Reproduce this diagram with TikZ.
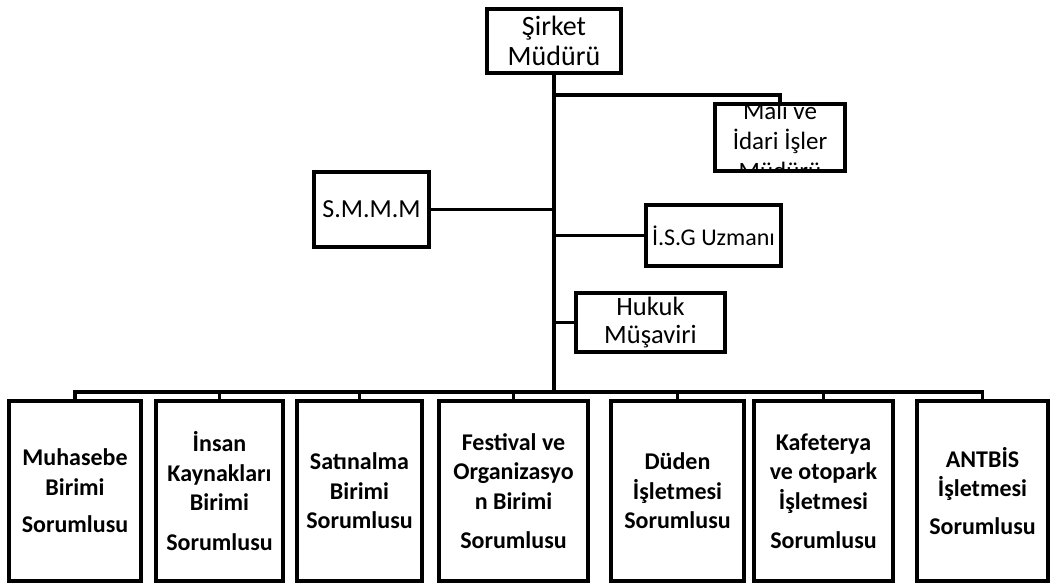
\documentclass[tikz,border=0pt]{standalone}
\usepackage{fontspec}
\setmainfont{Carlito}
\begin{document}
\begin{tikzpicture}[x=1pt,y=-1pt,
  box/.style={draw, line width=3.5pt, rectangle, inner sep=0pt, align=center,
    font=\fontsize{24}{29}\selectfont},
  ubox/.style={box, minimum height=180pt, font=\bfseries\fontsize{24}{29.5}\selectfont},
  conn/.style={line width=3.5pt},
  trunk/.style={line width=4.5pt}]
\useasboundingbox (0,0) rectangle (1057,585);
% upper boxes
\node[box, minimum width=134pt, minimum height=64pt, font=\fontsize{28}{30}\selectfont] (sirket) at (554,41) {Şirket\\Müdürü};
\node[box, minimum width=130pt, minimum height=67pt] (mali) at (780,137.5) {};
\begin{scope}
  \clip ([xshift=1.75pt,yshift=-1.75pt]mali.north west) rectangle ([xshift=-1.75pt,yshift=1.75pt]mali.south east);
  \node[align=center, font=\fontsize{25}{30}\selectfont, inner sep=0pt] (malitext) at (780,141) {Mali ve\\İdari İşler\\Müdürü};
\end{scope}
\node[box, minimum width=115pt, minimum height=75pt, font=\fontsize{26}{30}\selectfont] (smmm) at (371.5,209.5) {S.M.M.M};
\node[box, minimum width=135pt, minimum height=61pt] (isg) at (713.5,235.5) {İ.S.G Uzmanı};
\node[box, minimum width=149pt, minimum height=59pt, font=\fontsize{26.5}{28}\selectfont] (hukuk) at (650.5,322.5) {Hukuk\\Müşaviri};
% lower boxes
\node[ubox, minimum width=132pt] (muh) at (75,491) {Muhasebe\\Birimi\\[8pt]Sorumlusu};
\node[ubox, minimum width=127pt] (ins) at (219.5,491) {İnsan\\Kaynakları\\Birimi\\[10pt]Sorumlusu};
\node[ubox, minimum width=125pt] (sat) at (359.5,491) {Satınalma\\Birimi\\Sorumlusu};
\node[ubox, minimum width=149pt] (fes) at (513.5,491) {Festival ve\\Organizasyo\\n Birimi\\[10pt]Sorumlusu};
\node[ubox, minimum width=133pt] (dud) at (677.5,491) {Düden\\İşletmesi\\Sorumlusu};
\node[ubox, minimum width=139pt] (kaf) at (823.5,491) {Kafeterya\\ve otopark\\İşletmesi\\[10pt]Sorumlusu};
\node[ubox, minimum width=131pt] (ant) at (982.5,491) {ANTBİS\\İşletmesi\\[8pt]Sorumlusu};
% connectors
\coordinate (bar) at (554,392);
\coordinate (jm) at (554,95);
\draw[trunk] (sirket.south) -- (sirket.south |- bar);
\draw[conn] (jm) -| (mali.north);
\draw[conn] (smmm.east) -- (smmm.east -| sirket.south);
\draw[conn] (isg.west) -- (isg.west -| sirket.south);
\draw[conn] (hukuk.west) -- (hukuk.west -| sirket.south);
\draw[conn] (muh.north) -- (muh.north |- bar) -- (ant.north |- bar) -- (ant.north);
\foreach \n in {ins,sat,fes,dud,kaf}
  \draw[conn] (\n.north) -- (\n.north |- bar);
\end{tikzpicture}
\end{document}
